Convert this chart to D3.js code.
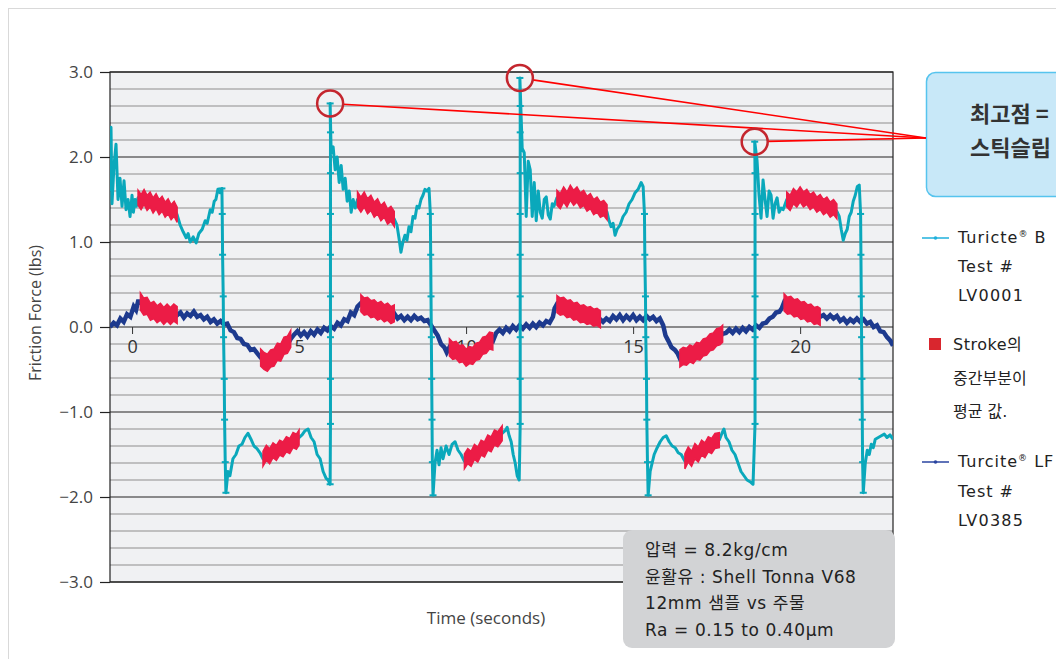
<!DOCTYPE html>
<html>
<head>
<meta charset="utf-8">
<script src="https://cdn.jsdelivr.net/npm/d3@7"></script>
<style>
  html, body { margin: 0; padding: 0; background: #fff; }
  svg { display: block; }
</style>
</head>
<body>
<div id="chart"></div>
<script>
// x tick values (seconds) and y tick values (lbs)
const xTicks = [0, 5, 10, 15, 20];
const yTicks = [-3, -2, -1, 0, 1, 2, 3];
const yTickLabels = ['−3.0', '−2.0', '−1.0', '0.0', '1.0', '2.0', '3.0'];

// Turicte B, Test # LV0001  [time, force]
const turicteB = [
  [-0.66,1.6],[-0.63,2.35],[-0.6,1.45],[-0.54,1.9],[-0.48,2.15],[-0.42,1.5],[-0.36,1.75],[-0.3,1.42],[-0.24,1.72],[-0.18,1.38],[-0.12,1.5],[-0.06,1.3],[0.0,1.55],[0.04,1.35],[0.09,1.5],[0.13,1.42],
  [0.18,1.52],[0.27,1.47],[0.36,1.53],[0.45,1.46],[0.54,1.5],[0.63,1.43],[0.72,1.48],[0.81,1.41],[0.9,1.45],[0.99,1.38],[1.08,1.42],[1.17,1.35],[1.26,1.39],[1.35,1.32],
  [1.44,1.2],[1.53,1.12],[1.62,1.05],[1.68,1.1],[1.74,1.0],[1.83,1.06],[1.92,0.99],[2.0,1.1],[2.1,1.15],[2.19,1.25],[2.25,1.22],[2.34,1.38],[2.4,1.35],[2.46,1.48],[2.51,1.5],[2.57,1.62],[2.63,1.58],[2.69,1.63],
  [2.7,1.33],[2.71,0.85],[2.73,0.36],[2.74,-0.12],[2.76,-0.61],[2.77,-1.09],[2.79,-1.59],[2.81,-1.95],
  [2.87,-1.7],[2.93,-1.75],[3.02,-1.55],[3.11,-1.5],[3.2,-1.4],[3.29,-1.38],[3.38,-1.3],[3.47,-1.25],[3.56,-1.32],[3.65,-1.4],[3.74,-1.43],[3.83,-1.48],
  [3.92,-1.55],[4.02,-1.48],[4.12,-1.52],[4.22,-1.45],[4.32,-1.48],[4.42,-1.42],[4.52,-1.44],[4.62,-1.38],[4.72,-1.4],[4.82,-1.33],[4.92,-1.35],[5.0,-1.3],
  [5.09,-1.27],[5.18,-1.22],[5.27,-1.2],[5.36,-1.3],[5.45,-1.35],[5.54,-1.5],[5.63,-1.55],[5.72,-1.7],[5.81,-1.78],[5.87,-1.8],[5.93,-1.85],
  [5.94,-1.14],[5.94,-0.61],[5.94,-0.12],[5.94,0.36],[5.94,0.85],[5.94,1.33],[5.94,1.81],[5.94,2.29],[5.93,2.63],
  [5.96,2.05],[6.02,2.12],[6.08,1.85],[6.14,2.0],[6.2,1.7],[6.26,1.9],[6.32,1.62],[6.38,1.75],[6.44,1.48],[6.5,1.6],[6.56,1.35],[6.62,1.5],[6.68,1.4],
  [6.75,1.5],[6.85,1.44],[6.95,1.5],[7.05,1.42],[7.15,1.46],[7.25,1.38],[7.35,1.42],[7.45,1.34],[7.55,1.38],[7.65,1.3],[7.75,1.33],[7.85,1.27],
  [7.93,1.2],[7.99,1.05],[8.05,0.88],[8.11,1.0],[8.17,1.08],[8.23,1.02],[8.29,1.18],[8.35,1.12],[8.41,1.3],[8.47,1.28],[8.53,1.42],[8.59,1.4],[8.65,1.5],[8.71,1.55],[8.77,1.62],[8.83,1.6],[8.89,1.63],
  [8.93,1.33],[8.94,0.85],[8.95,0.36],[8.96,-0.12],[8.97,-0.61],[8.98,-1.09],[8.99,-1.59],[9.01,-1.98],
  [9.07,-1.6],[9.13,-1.45],[9.19,-1.62],[9.25,-1.42],[9.31,-1.55],[9.4,-1.4],[9.49,-1.5],[9.58,-1.38],[9.67,-1.35],[9.76,-1.45],[9.85,-1.5],
  [9.95,-1.58],[10.05,-1.52],[10.15,-1.55],[10.25,-1.47],[10.35,-1.5],[10.45,-1.42],[10.55,-1.44],[10.65,-1.36],[10.75,-1.38],[10.85,-1.3],[10.95,-1.32],[11.08,-1.25],
  [11.17,-1.22],[11.23,-1.18],[11.29,-1.28],[11.35,-1.35],[11.41,-1.5],[11.47,-1.6],[11.53,-1.75],[11.59,-1.8],
  [11.62,-1.14],[11.62,-0.61],[11.62,-0.12],[11.62,0.36],[11.62,0.85],[11.62,1.33],[11.62,1.81],[11.62,2.29],[11.62,2.6],[11.61,2.93],
  [11.68,2.1],[11.74,2.05],[11.8,1.3],[11.86,1.95],[11.92,1.85],[11.98,1.3],[12.04,1.7],[12.1,1.25],[12.16,1.6],[12.22,1.35],[12.28,1.28],[12.34,1.5],[12.4,1.53],[12.46,1.32],[12.52,1.27],[12.58,1.45],[12.63,1.42],
  [12.72,1.52],[12.82,1.48],[12.92,1.56],[13.02,1.5],[13.12,1.58],[13.22,1.52],[13.32,1.56],[13.42,1.49],[13.52,1.52],[13.62,1.45],[13.72,1.48],[13.82,1.41],[13.92,1.44],[14.02,1.38],[14.12,1.4],[14.22,1.35],
  [14.28,1.25],[14.34,1.18],[14.4,1.22],[14.46,1.08],[14.52,1.15],[14.61,1.2],[14.7,1.3],[14.79,1.35],[14.88,1.45],[14.97,1.5],[15.06,1.58],[15.15,1.62],[15.24,1.7],[15.3,1.65],
  [15.34,1.33],[15.35,0.85],[15.37,0.36],[15.38,-0.12],[15.4,-0.61],[15.41,-1.09],[15.43,-1.59],[15.45,-1.98],
  [15.51,-1.7],[15.57,-1.6],[15.63,-1.5],[15.72,-1.42],[15.81,-1.35],[15.9,-1.3],[15.99,-1.28],[16.08,-1.35],[16.17,-1.4],[16.26,-1.42],[16.35,-1.48],[16.44,-1.5],
  [16.55,-1.58],[16.65,-1.5],[16.75,-1.55],[16.85,-1.46],[16.95,-1.5],[17.05,-1.42],[17.15,-1.45],[17.25,-1.38],[17.35,-1.4],[17.45,-1.34],[17.58,-1.33],
  [17.66,-1.25],[17.72,-1.2],[17.78,-1.3],[17.87,-1.35],[17.96,-1.45],[18.05,-1.5],[18.14,-1.6],[18.23,-1.7],[18.32,-1.75],[18.41,-1.8],[18.5,-1.82],[18.59,-1.85],
  [18.65,-1.14],[18.65,-0.61],[18.65,-0.12],[18.65,0.36],[18.65,0.85],[18.65,1.33],[18.65,1.81],[18.64,2.18],
  [18.71,1.96],[18.77,1.55],[18.83,1.28],[18.89,1.73],[18.95,1.5],[19.01,1.3],[19.07,1.6],[19.13,1.55],[19.19,1.28],[19.25,1.45],[19.31,1.52],[19.37,1.35],[19.43,1.4],[19.49,1.38],
  [19.6,1.5],[19.7,1.46],[19.8,1.54],[19.9,1.5],[20.0,1.56],[20.1,1.5],[20.2,1.53],[20.3,1.47],[20.4,1.5],[20.5,1.44],[20.6,1.47],[20.7,1.41],[20.8,1.44],[20.9,1.38],[21.0,1.41],[21.1,1.36],
  [21.17,1.3],[21.23,1.15],[21.29,1.02],[21.35,1.1],[21.41,1.15],[21.47,1.3],[21.53,1.35],[21.59,1.48],[21.65,1.55],[21.71,1.65],[21.77,1.67],
  [21.81,1.33],[21.82,0.85],[21.83,0.36],[21.84,-0.12],[21.85,-0.61],[21.86,-1.09],[21.87,-1.59],[21.89,-1.95],
  [21.95,-1.6],[22.01,-1.45],[22.07,-1.5],[22.13,-1.38],[22.19,-1.42],[22.25,-1.32],[22.34,-1.3],[22.43,-1.28],[22.52,-1.26],[22.6,-1.3],[22.69,-1.27],[22.78,-1.32]
];

// Turcite LF, Test # LV0385  [time, force]
const turciteLF = [
  [-0.66,0.0],[-0.55,0.05],[-0.45,0.02],[-0.35,0.1],[-0.25,0.06],[-0.15,0.15],[-0.05,0.12],[0.05,0.24],[0.12,0.2],[0.18,0.3],
  [0.25,0.3],[0.35,0.24],[0.45,0.25],[0.55,0.18],[0.65,0.2],[0.75,0.15],[0.85,0.18],[0.95,0.13],[1.05,0.17],[1.15,0.13],[1.25,0.17],[1.35,0.14],
  [1.45,0.17],[1.55,0.11],[1.65,0.16],[1.75,0.13],[1.85,0.18],[1.95,0.12],[2.05,0.14],[2.15,0.09],[2.25,0.12],[2.35,0.06],[2.45,0.09],[2.55,0.04],[2.65,0.07],[2.75,0.03],[2.85,0.04],[2.95,-0.04],[3.05,-0.06],[3.15,-0.13],[3.25,-0.14],[3.35,-0.2],[3.45,-0.21],[3.55,-0.27],[3.65,-0.26],[3.75,-0.31],
  [3.85,-0.36],[3.95,-0.4],[4.05,-0.42],[4.15,-0.37],[4.25,-0.36],[4.35,-0.29],[4.45,-0.3],[4.55,-0.22],[4.65,-0.21],[4.75,-0.14],
  [4.85,-0.09],[4.95,-0.05],[5.05,-0.1],[5.15,-0.06],[5.25,-0.11],[5.35,-0.05],[5.45,-0.09],[5.55,-0.03],[5.65,-0.07],[5.75,-0.01],[5.85,-0.04],[5.95,0.01],[6.05,-0.02],[6.15,0.05],[6.25,0.02],[6.35,0.09],[6.45,0.07],[6.55,0.17],[6.65,0.14],[6.75,0.24],
  [6.85,0.28],[6.95,0.24],[7.05,0.25],[7.15,0.21],[7.25,0.22],[7.35,0.18],[7.45,0.2],[7.55,0.16],[7.65,0.18],[7.75,0.14],[7.85,0.16],
  [7.95,0.1],[8.05,0.13],[8.15,0.08],[8.25,0.12],[8.35,0.08],[8.45,0.13],[8.55,0.09],[8.65,0.11],[8.75,0.07],[8.85,0.08],[8.95,0.02],[9.05,-0.04],[9.15,-0.1],[9.25,-0.2],[9.35,-0.24],[9.42,-0.3],
  [9.5,-0.24],[9.6,-0.28],[9.7,-0.27],[9.8,-0.32],[9.9,-0.31],[10.0,-0.36],[10.1,-0.33],[10.2,-0.34],[10.3,-0.29],[10.4,-0.28],[10.5,-0.22],[10.6,-0.21],[10.7,-0.16],[10.8,-0.17],
  [10.9,-0.07],[11.0,-0.03],[11.1,-0.07],[11.2,-0.01],[11.3,-0.05],[11.4,0.01],[11.5,-0.03],[11.6,0.02],[11.7,-0.02],[11.8,0.03],[11.9,-0.01],[12.0,0.04],[12.1,0.0],[12.2,0.05],[12.3,0.02],[12.4,0.07],[12.5,0.05],[12.6,0.12],[12.65,0.22],
  [12.72,0.27],[12.82,0.24],[12.92,0.25],[13.02,0.21],[13.12,0.22],[13.22,0.18],[13.32,0.19],[13.42,0.15],[13.52,0.16],[13.62,0.13],[13.72,0.14],[13.82,0.11],[13.92,0.12],[14.02,0.09],
  [14.1,0.06],[14.2,0.1],[14.3,0.07],[14.4,0.13],[14.5,0.09],[14.6,0.14],[14.7,0.08],[14.8,0.13],[14.9,0.09],[15.0,0.14],[15.1,0.08],[15.2,0.12],[15.3,0.08],[15.4,0.13],[15.5,0.09],[15.6,0.12],[15.7,0.07],[15.8,0.1],[15.9,0.02],[15.97,-0.1],[16.05,-0.16],[16.15,-0.24],[16.25,-0.27],[16.33,-0.31],
  [16.4,-0.37],[16.5,-0.34],[16.6,-0.35],[16.7,-0.31],[16.8,-0.33],[16.9,-0.28],[17.0,-0.29],[17.1,-0.24],[17.2,-0.23],[17.3,-0.18],[17.4,-0.17],[17.5,-0.12],[17.6,-0.11],[17.68,-0.08],
  [17.78,-0.07],[17.88,-0.03],[17.98,-0.07],[18.08,-0.02],[18.18,-0.06],[18.28,-0.01],[18.38,-0.05],[18.48,0.0],[18.58,-0.03],[18.68,0.02],[18.78,-0.01],[18.88,0.04],[18.98,0.05],[19.08,0.1],[19.18,0.12],[19.28,0.17],[19.38,0.18],[19.45,0.22],
  [19.52,0.29],[19.62,0.25],[19.72,0.26],[19.82,0.22],[19.92,0.23],[20.02,0.19],[20.12,0.2],[20.22,0.16],[20.32,0.17],[20.42,0.13],[20.52,0.14],[20.6,0.12],
  [20.7,0.14],[20.8,0.1],[20.9,0.14],[21.0,0.1],[21.1,0.13],[21.2,0.07],[21.3,0.1],[21.4,0.05],[21.5,0.09],[21.6,0.06],[21.7,0.1],[21.8,0.06],[21.9,0.09],[22.0,0.04],[22.1,0.06],[22.2,0.0],[22.3,0.02],[22.4,-0.05],[22.5,-0.06],[22.6,-0.12],[22.7,-0.16],[22.78,-0.22]
];

// mid-stroke windows (seconds) highlighted in red
const turicteBMid = [[0.15,1.36],[3.9,5.01],[6.72,7.86],[9.93,11.1],[12.7,14.23],[16.52,17.6],[19.58,21.11]];
const turciteLFMid = [[0.2,1.36],[3.82,4.76],[6.8,7.86],[9.46,10.82],[12.7,14.03],[16.38,17.69],[19.5,20.61]];

// stick-slip peaks of Turicte B (seconds)
const peakTimes = [5.93, 11.61, 18.64];

const infoLines = ['압력 = 8.2kg/cm', '윤활유 : Shell Tonna V68', '12mm 샘플 vs 주물', 'Ra = 0.15 to 0.40μm'];
const calloutLines = ['최고점 =', '스틱슬립'];

const width = 1056;
const height = 659;
const cyan = '#0aa8bb';
const navy = '#1d3a8e';
const red = '#ec1c46';
const axisFont = '"Open Sans", "Noto Sans", sans-serif';
const krFont = '"Noto Sans CJK KR", "Noto Sans", sans-serif';
const mixFont = '"DejaVu Sans", "Noto Sans CJK KR", sans-serif';

const x = d3.scaleLinear().domain([-0.66, 22.78]).range([110, 893]);
const y = d3.scaleLinear().domain([-3, 3]).range([582, 72]);

const svg = d3.select('#chart').append('svg')
  .attr('width', width)
  .attr('height', height);

svg.append('rect')
  .attr('x', 8.5).attr('y', 8.5)
  .attr('width', 1100).attr('height', 700)
  .attr('fill', 'none').attr('stroke', '#d9d9d9');

svg.append('clipPath').attr('id', 'plotClip')
  .append('rect')
  .attr('x', x.range()[0]).attr('y', y.range()[1])
  .attr('width', x.range()[1] - x.range()[0])
  .attr('height', y.range()[0] - y.range()[1]);

// plot background + grid
svg.append('rect')
  .attr('x', x.range()[0]).attr('y', y.range()[1])
  .attr('width', x.range()[1] - x.range()[0])
  .attr('height', y.range()[0] - y.range()[1])
  .attr('fill', '#f0f1f3');

svg.append('g').selectAll('line')
  .data(y.ticks(30).filter(d => Math.abs(d - Math.round(d)) > 1e-6))
  .enter().append('line')
  .attr('x1', x.range()[0]).attr('x2', x.range()[1])
  .attr('y1', d => y(d)).attr('y2', d => y(d))
  .attr('stroke', '#8e8e8e')
  .attr('stroke-width', 1.2);

svg.append('g').selectAll('line')
  .data(yTicks)
  .enter().append('line')
  .attr('x1', x.range()[0]).attr('x2', x.range()[1])
  .attr('y1', d => y(d)).attr('y2', d => y(d))
  .attr('stroke', '#222')
  .attr('stroke-width', 1.2);

svg.append('rect')
  .attr('x', x.range()[0]).attr('y', y.range()[1])
  .attr('width', x.range()[1] - x.range()[0])
  .attr('height', y.range()[0] - y.range()[1])
  .attr('fill', 'none').attr('stroke', '#222').attr('stroke-width', 1.2);

// axes
const yAxis = svg.append('g')
  .attr('transform', 'translate(' + x.range()[0] + ',0)')
  .call(d3.axisLeft(y).tickValues(yTicks).tickFormat((d, i) => yTickLabels[i]).tickSize(10).tickPadding(7));
yAxis.select('.domain').remove();
yAxis.selectAll('line').attr('stroke', '#222').attr('stroke-width', 1.2);
yAxis.selectAll('text').attr('fill', '#444').style('font-family', axisFont).style('font-size', '17px');

const xAxis = svg.append('g')
  .attr('transform', 'translate(0,' + y(0) + ')')
  .call(d3.axisBottom(x).tickValues(xTicks).tickSize(7).tickPadding(6));
xAxis.select('.domain').remove();
xAxis.selectAll('line').attr('stroke', '#333');
xAxis.selectAll('text').attr('fill', '#333').style('font-family', axisFont).style('font-size', '18px');

svg.append('text')
  .attr('transform', 'translate(41,313) rotate(-90)')
  .attr('text-anchor', 'middle')
  .attr('fill', '#444')
  .style('font-family', axisFont).style('font-size', '16px')
  .text('Friction Force (lbs)');

svg.append('text')
  .attr('x', 486).attr('y', 624)
  .attr('text-anchor', 'middle')
  .attr('fill', '#444')
  .style('font-family', axisFont).style('font-size', '17px')
  .text('Time (seconds)');

// series
const line = d3.line().x(d => x(d[0])).y(d => y(d[1]));
const series = svg.append('g').attr('clip-path', 'url(#plotClip)');

function drawMid(data, spans, half) {
  const band = d3.area()
    .x(d => x(d[0]))
    .y0(d => y(d[1]) + half)
    .y1(d => y(d[1]) - half);
  spans.forEach(s => {
    series.append('path')
      .datum(data.filter(d => d[0] >= s[0] && d[0] <= s[1]))
      .attr('d', band)
      .attr('fill', red)
      .attr('stroke', red)
      .attr('stroke-width', 1.5);
  });
}

series.append('path')
  .datum(turciteLF)
  .attr('d', line)
  .attr('fill', 'none')
  .attr('stroke', navy)
  .attr('stroke-width', 4.5)
  .attr('stroke-linejoin', 'miter');
drawMid(turciteLF, turciteLFMid, 8.5);

series.append('path')
  .datum(turicteB)
  .attr('d', line)
  .attr('fill', 'none')
  .attr('stroke', cyan)
  .attr('stroke-width', 3)
  .attr('stroke-linejoin', 'round');

// markers show up on the fast stick-slip edges, where samples sit close in time
const steep = turicteB.filter((d, i) =>
  (i > 0 && d[0] - turicteB[i - 1][0] < 0.025) ||
  (i < turicteB.length - 1 && turicteB[i + 1][0] - d[0] < 0.025));
series.selectAll('.mk')
  .data(steep)
  .enter().append('rect')
  .attr('class', 'mk')
  .attr('x', d => x(d[0]) - 3.5).attr('y', d => y(d[1]) - 1)
  .attr('width', 7).attr('height', 2)
  .attr('fill', cyan);
drawMid(turicteB, turicteBMid, 7.5);

// callout
const callout = svg.append('g');
callout.append('rect')
  .attr('x', 926.5).attr('y', 72.5)
  .attr('width', 200).attr('height', 124)
  .attr('rx', 9)
  .attr('fill', '#c8e8f8').attr('stroke', '#56c4ee').attr('stroke-width', 1.5);
callout.selectAll('text')
  .data(calloutLines)
  .enter().append('text')
  .attr('x', 970).attr('y', (d, i) => 122 + i * 34)
  .attr('fill', '#333')
  .style('font-family', krFont).style('font-size', '22px').style('font-weight', 'bold')
  .text(d => d);

const target = [926, 138];
peakTimes.forEach(t => {
  const p = turicteB.filter(d => Math.abs(d[0] - t) < 0.05)
    .reduce((a, b) => (b[1] > a[1] ? b : a));
  const cx = x(p[0]);
  const cy = y(p[1]);
  const r = 13;
  const a = Math.atan2(target[1] - cy, target[0] - cx);
  svg.append('line')
    .attr('x1', cx + r * Math.cos(a)).attr('y1', cy + r * Math.sin(a))
    .attr('x2', target[0]).attr('y2', target[1])
    .attr('stroke', '#f00').attr('stroke-width', 1.6);
  svg.append('circle')
    .attr('cx', cx).attr('cy', cy).attr('r', r)
    .attr('fill', 'none').attr('stroke', '#c4262e').attr('stroke-width', 2.5);
});

// legend
const legend = svg.append('g')
  .attr('fill', '#222')
  .style('font-family', mixFont).style('font-size', '16px');

function legendLine(yy, color) {
  legend.append('line')
    .attr('x1', 922).attr('x2', 949).attr('y1', yy).attr('y2', yy)
    .attr('stroke', color).attr('stroke-width', 1.5);
  legend.append('circle')
    .attr('cx', 935.5).attr('cy', yy).attr('r', 1.8)
    .attr('fill', color);
}

function legendText(xx, yy, s, spacing) {
  return legend.append('text').attr('x', xx).attr('y', yy)
    .style('letter-spacing', spacing + 'px').text(s);
}

function regText(xx, yy, a, b) {
  const t = legend.append('text').attr('x', xx).attr('y', yy).style('letter-spacing', '1px');
  t.append('tspan').text(a);
  t.append('tspan').attr('dy', -6).style('font-size', '9px').text('®');
  t.append('tspan').attr('dy', 6).text(' ' + b);
}

legendLine(238, '#1fb0dc');
regText(958, 243, 'Turicte', 'B');
legendText(958, 272, 'Test #', 1);
legendText(958, 301, 'LV0001', 1.2);

legend.append('rect')
  .attr('x', 929).attr('y', 338).attr('width', 12).attr('height', 12)
  .attr('fill', '#d9262e');
legendText(953, 350, 'Stroke의', 0.5);
legendText(953, 384, '중간부분이', 0);
legendText(953, 417, '평균 값.', 0);

legendLine(462, '#2a45a0');
regText(958, 467, 'Turcite', 'LF');
legendText(958, 497, 'Test #', 1);
legendText(958, 526, 'LV0385', 1.2);

// test conditions box
const info = svg.append('g');
info.append('rect')
  .attr('x', 623).attr('y', 530)
  .attr('width', 272).attr('height', 118)
  .attr('rx', 9)
  .attr('fill', '#d2d3d5');
info.selectAll('text')
  .data(infoLines)
  .enter().append('text')
  .attr('x', 645).attr('y', (d, i) => 556 + i * 26.5)
  .attr('fill', '#222')
  .style('font-family', mixFont).style('font-size', '17px')
  .style('letter-spacing', '0.6px')
  .text(d => d);
</script>
</body>
</html>
